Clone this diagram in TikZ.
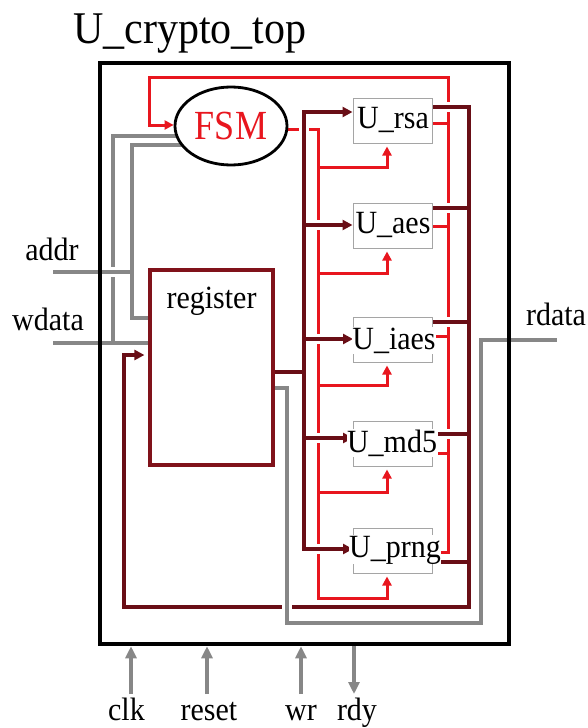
\documentclass[tikz,border=0pt]{standalone}
\usepackage{fontspec}
\setmainfont{Liberation Serif}
\usepackage{graphicx}
\usetikzlibrary{arrows.meta,backgrounds,shapes.geometric}
\definecolor{sred}{RGB}{232,22,30}
\definecolor{drk}{RGB}{105,14,22}
\definecolor{regc}{RGB}{128,18,26}
\definecolor{sgray}{RGB}{135,135,135}
\definecolor{mgray}{RGB}{165,165,165}
\newcommand{\vst}[2][1.08]{\scalebox{1}[#1]{#2}}
\tikzset{
  txt/.style={inner sep=0pt, font=\fontsize{30}{36}\selectfont},
  modbox/.style={draw=mgray, line width=1pt, minimum width=79pt, minimum height=45pt, inner sep=0pt},
  modlbl/.style={txt, fill=white, anchor=base, inner sep=0.5pt},
  rline/.style={draw=sred, line width=3pt},
  dline/.style={draw=drk, line width=3.5pt},
  gline/.style={draw=sgray, line width=3.8pt},
  halo/.style={preaction={draw=white, line width=10pt, arrows=-, shorten <=#1, shorten >=#1}},
  halo/.default=0pt,
  rarr/.style={-{Triangle[width=9pt,length=9pt]}},
  darr/.style={-{Triangle[width=10pt,length=10pt]}},
  garr/.style={-{Triangle[width=11pt,length=12pt]}},
}
\begin{document}
\begin{tikzpicture}[x=1pt,y=-1pt]
\useasboundingbox (0,0) rectangle (588,728);
% title and outer box
\node[txt, anchor=base, font=\fontsize{42}{50}\selectfont] (title) at (190,43) {\vst{U\_crypto\_top}};
\node[draw=black, line width=4.5pt, minimum width=409pt, minimum height=581pt, inner sep=0pt] (top) at (304.5,353.5) {};
% FSM
\node[draw=black, line width=2.8pt, fill=white, ellipse, minimum width=112pt, minimum height=78pt, inner sep=0pt, text=sred, font=\fontsize{36}{40}\selectfont] (fsm) at (231,126) {\vst[1.15]{FSM}};
% register
\node[draw=regc, line width=3.2pt, minimum width=123pt, minimum height=195pt, inner sep=0pt] (reg) at (211.5,367.5) {};
\node[txt, anchor=base] (reglbl) at (211.5,308) {\vst{register}};
% modules
\node[modbox] (rsa) at (392.5,120.5) {};
\node[modbox] (aes) at (392.5,225.5) {};
\node[modbox] (iaes) at (393,339.5) {};
\node[modbox] (md5) at (393,443.5) {};
\node[modbox] (prng) at (393,550.5) {};
\node[modlbl] (rsalbl) at (393,128) {\vst{U\_rsa}};
\node[modlbl] (aeslbl) at (393,233) {\vst{U\_aes}};
\node[modlbl] (iaeslbl) at (394,349) {\vst{U\_iaes}};
\node[modlbl] (md5lbl) at (392,452) {\vst{U\_md5}};
\node[modlbl] (prnglbl) at (395,557) {\vst{U\_prng}};
% port labels
\node[txt, anchor=base] (addr) at (52,260) {\vst{addr}};
\node[txt, anchor=base] (wdata) at (48,330) {\vst{wdata}};
\node[txt, anchor=base] (rdata) at (556,325) {\vst{rdata}};
\node[txt, anchor=base] (clk) at (126.5,720) {\vst{clk}};
\node[txt, anchor=base] (reset) at (209,720) {\vst{reset}};
\node[txt, anchor=base] (wr) at (301,720) {\vst{wr}};
\node[txt, anchor=base] (rdy) at (357,720) {\vst{rdy}};
\coordinate (addrin) at (53,272);
\coordinate (wdin) at (53,343);
\coordinate (rdout) at (557,340);

\begin{scope}[on background layer]
% red: done signals back to FSM
\draw[rline, rarr] (prng.east |- 0,552) -- (448,552) -- (448,77) -- (149,77) -- (149,125) -- (fsm.west |- 0,125);
\draw[rline] (rsa.east |- 0,123) -- (448,123);
\draw[rline] (aes.east |- 0,226) -- (448,226);
\draw[rline] (iaes.east |- 0,336) -- (448,336);
\draw[rline] (md5.east |- 0,453) -- (448,453);
% red: FSM start signals
\draw[rline, rarr, shorten >=3pt] (fsm.center |- 0,129) -- (318,129) -- (318,598) -- (387,598) -- (prng.south -| 387,0);
\draw[rline, rarr, shorten >=3pt] (318,167) -- (387,167) -- (rsa.south -| 387,0);
\draw[rline, rarr, shorten >=3pt] (318,273) -- (387,273) -- (aes.south -| 387,0);
\draw[rline, rarr, shorten >=3pt] (318,385) -- (387,385) -- (iaes.south -| 387,0);
\draw[rline, rarr, shorten >=3pt] (318,492) -- (387,492) -- (md5.south -| 387,0);
% dark red: module outputs back to register
\draw[dline, darr, halo, shorten >=4pt] (rsa.east |- 0,107) -- (469,107) -- (469,607) -- (124,607) -- (124,355) -- (reg.west |- 0,355);
\draw[dline, halo=6pt] (aes.east |- 0,208) -- (469,208);
\draw[dline, halo=6pt] (iaes.east |- 0,322) -- (469,322);
\draw[dline, halo=6pt] (md5.east |- 0,434) -- (469,434);
\draw[dline, halo=6pt] (prng.east |- 0,562) -- (469,562);
% dark red: register to modules
\draw[dline, {Triangle[width=10pt,length=10pt]}-{Triangle[width=10pt,length=10pt]}, halo] (rsa.west |- 0,112) -- (304,112) -- (304,549) -- (prng.west |- 0,549);
\draw[dline] (reg.east |- 0,372) -- (304,372);
\draw[dline, darr, halo=6pt] (304,225) -- (aes.west |- 0,225);
\draw[dline, darr, halo=6pt] (304,339) -- (iaes.west |- 0,339);
\draw[dline, darr, halo=6pt] (304,438) -- (md5.west |- 0,438);
% gray: inputs
\draw[gline] (fsm.center |- 0,136) -- (113,136) -- (113,343);
\draw[gline] (wdin) -- (reg.west |- 0,343);
\draw[gline] (fsm.center |- 0,145) -- (132,145) -- (132,318) -- (reg.west |- 0,318);
\draw[gline, halo=5pt] (addrin) -- (132,272);
% gray: output rdata
\draw[gline, halo] (reg.east |- 0,388) -- (287,388) -- (287,623) -- (481,623) -- (481,340) -- (rdout);
% gray: bottom ports
\draw[gline, garr] ([xshift=4.5pt]clk.north |- 0,694) -- ([xshift=4.5pt]clk.north |- top.south);
\draw[gline, garr] ([xshift=-2pt]reset.north |- 0,694) -- ([xshift=-2pt]reset.north |- top.south);
\draw[gline, garr] (wr.north |- 0,694) -- (wr.north |- top.south);
\draw[gline, garr] ([xshift=-3pt]rdy.north |- top.south) -- ([xshift=-3pt]rdy.north |- 0,694);
\end{scope}
\end{tikzpicture}
\end{document}
